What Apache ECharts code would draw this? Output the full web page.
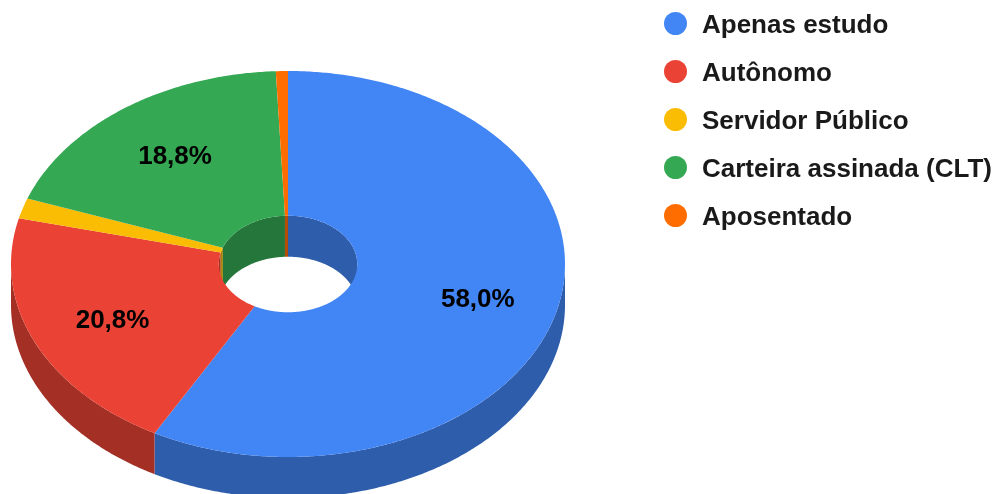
<!DOCTYPE html>
<html>
<head>
<meta charset="utf-8">
<style>
  html, body { margin: 0; padding: 0; background: #fff; }
  #chart { width: 1002px; height: 494px; }
</style>
<script src="https://cdn.jsdelivr.net/npm/echarts@6/dist/echarts.min.js"></script>
</head>
<body>
<div id="chart"></div>
<script>
  const categories = ['Apenas estudo', 'Autônomo', 'Servidor Público', 'Carteira assinada (CLT)', 'Aposentado'];
  const shares = [58.0, 20.8, 1.7, 18.8, 0.7];
  const colors = ['#4285F4', '#EA4335', '#FBBC04', '#34A853', '#FF6D01'];
  const wallColors = ['#2E5DAB', '#A32F25', '#B08403', '#24763A', '#B34C01'];
  const labelled = [true, true, false, true, false];

  // ellipse of the top face and the height of the disc
  const cx = 288, cy = 264, rx = 277, ry = 193, hole = 0.25, depth = 41;
  const labelR = 0.7;

  const total = shares.reduce((a, b) => a + b, 0);
  const starts = shares.map((_, i) => shares.slice(0, i).reduce((a, b) => a + b, 0));

  // deg is measured clockwise from the top of the ellipse
  const pt = (deg, r, dy) => {
    const a = deg * Math.PI / 180;
    return [cx + rx * r * Math.sin(a), cy - ry * r * Math.cos(a) + (dy || 0)];
  };
  const arc = (from, to, r, dy) => {
    const pts = [];
    const n = Math.max(1, Math.ceil(Math.abs(to - from) * 2));
    for (let i = 0; i <= n; i++) pts.push(pt(from + (to - from) * i / n, r, dy));
    return pts;
  };
  const wall = (from, to, r, fill) => {
    if (to <= from) return null;
    return {
      type: 'polygon',
      z2: 1,
      shape: { points: arc(from, to, r, 0).concat(arc(to, from, r, depth)) },
      style: { fill: fill }
    };
  };

  const renderSlice = (params, api) => {
    const i = params.seriesIndex;
    const from = api.value(0) / total * 360;
    const to = (api.value(0) + api.value(1)) / total * 360;
    const mid = (from + to) / 2;
    const children = [
      // outer wall shows on the near half, inner wall on the far half
      wall(Math.max(from, 90), Math.min(to, 270), 1, wallColors[i]),
      wall(from, Math.min(to, 90), hole, wallColors[i]),
      wall(Math.max(from, 270), to, hole, wallColors[i]),
      {
        type: 'polygon',
        z2: 5,
        shape: { points: arc(from, to, 1).concat(arc(to, from, hole)) },
        style: { fill: colors[i] }
      }
    ].filter(Boolean);
    if (labelled[i]) {
      const p = pt(mid, labelR);
      children.push({
        type: 'text',
        z2: 10,
        x: p[0] + 2,
        y: p[1] + 2,
        style: {
          text: api.value(1).toFixed(1).replace('.', ',') + '%',
          fill: '#000',
          font: 'bold 26px "Liberation Sans", Arial, sans-serif',
          align: 'center',
          verticalAlign: 'middle'
        }
      });
    }
    return { type: 'group', children: children };
  };

  const legendFont = {
    color: '#1a1a1a',
    fontFamily: '"Liberation Sans", Arial, sans-serif',
    fontWeight: 'bold',
    fontSize: 26
  };

  const chart = echarts.init(document.getElementById('chart'), null, { renderer: 'canvas' });
  chart.setOption({
    animation: false,
    backgroundColor: '#fff',
    legend: {
      orient: 'vertical',
      left: 659,
      top: 7,
      itemGap: 21,
      itemWidth: 23,
      itemHeight: 23,
      icon: 'circle',
      data: categories,
      formatter: '{a|{name}}',
      textStyle: {
        ...legendFont,
        rich: { a: { ...legendFont, padding: [5, 0, 0, 10] } }
      }
    },
    series: categories.map((name, i) => ({
      type: 'custom',
      name: name,
      coordinateSystem: 'none',
      itemStyle: { color: colors[i] },
      encode: { tooltip: 1 },
      data: [[starts[i], shares[i]]],
      renderItem: renderSlice
    }))
  });
</script>
</body>
</html>
